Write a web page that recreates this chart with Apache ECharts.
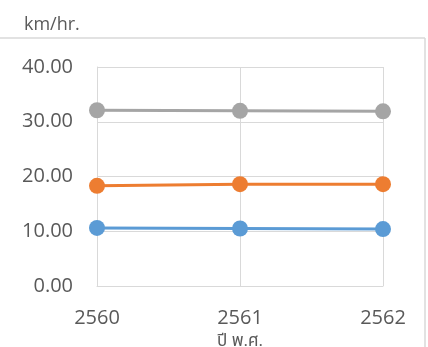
<!DOCTYPE html>
<html>
<head>
<meta charset="utf-8">
<script src="https://cdn.jsdelivr.net/npm/echarts@6/dist/echarts.min.js"></script>
<style>
html,body{margin:0;padding:0;background:#fff;overflow:hidden;}
#chart{width:428px;height:347px;}
</style>
</head>
<body>
<div id="chart"></div>
<script>
var categories = ['2560', '2561', '2562'];
var seriesGray = [32.1, 32.0, 31.9];
var seriesOrange = [18.3, 18.6, 18.6];
var seriesBlue = [10.6, 10.5, 10.4];
var yTicks = [0, 10, 20, 30, 40];
var unitLabel = 'km/hr.';
var xAxisName = 'ปี พ.ศ.';

var FONT = '"Open Sans", "Noto Sans", "Noto Sans Thai", sans-serif';
var chart = echarts.init(document.getElementById('chart'), null, {renderer: 'canvas'});

function mk(name, data, color) {
  return {
    name: name, type: 'line', data: data,
    symbol: 'circle', symbolSize: 16,
    lineStyle: {color: color, width: 3},
    itemStyle: {color: color},
    animation: false
  };
}

chart.setOption({
  animation: false,
  backgroundColor: '#ffffff',
  title: {
    text: unitLabel, left: 19, top: 11,
    textStyle: {fontFamily: FONT, fontSize: 18, fontWeight: 'normal', color: '#595959'}
  },
  graphic: [
    {type: 'line', shape: {x1: 0, y1: 38, x2: 425, y2: 38}, style: {stroke: '#d9d9d9', lineWidth: 1.5}, silent: true},
    {type: 'line', shape: {x1: 425, y1: 38, x2: 425, y2: 347}, style: {stroke: '#d9d9d9', lineWidth: 1.5}, silent: true}
  ],
  grid: {left: 97, right: 45, top: 67, bottom: 61, containLabel: false, outerBoundsMode: 'none'},
  xAxis: {
    type: 'category', data: categories, boundaryGap: false,
    name: xAxisName, nameLocation: 'middle', nameGap: 44,
    nameTextStyle: {fontFamily: FONT, fontSize: 17, color: '#595959'},
    axisLine: {show: true, lineStyle: {color: '#d9d9d9', width: 1}},
    axisTick: {show: false},
    axisLabel: {fontFamily: FONT, fontSize: 20, color: '#595959', margin: 22},
    splitLine: {show: true, lineStyle: {color: '#d9d9d9', width: 1}}
  },
  yAxis: {
    type: 'value', min: yTicks[0], max: yTicks[yTicks.length - 1], interval: 10,
    axisLine: {show: true, lineStyle: {color: '#d9d9d9', width: 1}},
    axisTick: {show: false},
    axisLabel: {fontFamily: FONT, fontSize: 20, color: '#595959', margin: 24,
      formatter: function (v) { return v.toFixed(2); }},
    splitLine: {show: true, lineStyle: {color: '#d9d9d9', width: 1}}
  },
  series: [
    mk('gray', seriesGray, '#a5a5a5'),
    mk('orange', seriesOrange, '#ed7d31'),
    mk('blue', seriesBlue, '#5b9bd5')
  ]
});
</script>
</body>
</html>
